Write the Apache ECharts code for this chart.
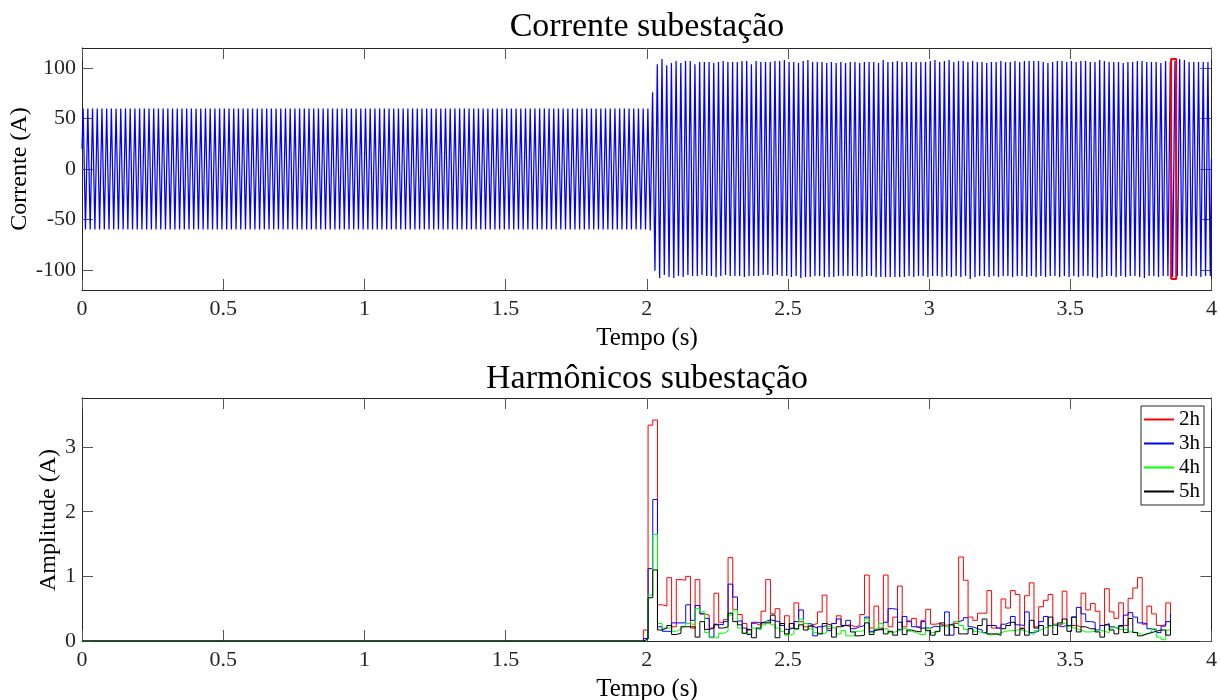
<!DOCTYPE html>
<html>
<head>
<meta charset="utf-8">
<script src="https://cdn.jsdelivr.net/npm/echarts@6/dist/echarts.min.js"></script>
<style>html,body{margin:0;padding:0;background:#fff}#c{width:1220px;height:700px}</style>
</head>
<body>
<div id="c"></div>
<script>
// ---------- DATA ----------
const timeTicks = [0, 0.5, 1, 1.5, 2, 2.5, 3, 3.5, 4];
const currentTicks = [-100, -50, 0, 50, 100];
const amplitudeTicks = [0, 1, 2, 3];

// Current waveform: 60 Hz, extremes of each cycle
const currentStart = [0, 20];
const currentEnd = [4, 10];
const currentFirstPeakTime = 0.004;
const currentFrequency = 60;
const currentPosPeaks = [
 60,60,60,60,60,60,60,60,60,60,60,60,60,60,60,60,60,60,60,60,
 60,60,60,60,60,60,60,60,60,60,60,60,60,60,60,60,60,60,60,60,
 60,60,60,60,60,60,60,60,60,60,60,60,60,60,60,60,60,60,60,60,
 60,60,60,60,60,60,60,60,60,60,60,60,60,60,60,60,60,60,60,60,
 60,60,60,60,60,60,60,60,60,60,60,60,60,60,60,60,60,60,60,60,
 60,60,60,60,60,60,60,60,60,60,60,60,60,60,60,60,60,60,60,60,
 60,
 76,104,109,103,105,107,105,107,107,104,106,106,106,105,106,107,106,106,106,107,
 107,104,107,106,106,106,107,107,108,106,106,105,107,108,106,106,106,105,106,105,
 106,105,106,106,105,106,106,106,105,108,106,106,107,
 106,106,106,106,106,106,107,108,106,107,108,106,107,107,106,107,106,106,105,106,
 106,107,106,106,107,106,107,107,107,107,106,105,106,107,107,106,107,106,107,107,
 106,106,108,107,106,106,106,105,106,106,107,107,106,106,106,105,107,106,107,109,
 108,106,106,106,106,106
];
const currentNegPeaks = [
 -60,-60,-60,-60,-60,-60,-60,-60,-60,-60,-60,-60,-60,-60,-60,-60,-60,-60,-60,-60,
 -60,-60,-60,-60,-60,-60,-60,-60,-60,-60,-60,-60,-60,-60,-60,-60,-60,-60,-60,-60,
 -60,-60,-60,-60,-60,-60,-60,-60,-60,-60,-60,-60,-60,-60,-60,-60,-60,-60,-60,-60,
 -60,-60,-60,-60,-60,-60,-60,-60,-60,-60,-60,-60,-60,-60,-60,-60,-60,-60,-60,-60,
 -60,-60,-60,-60,-60,-60,-60,-60,-60,-60,-60,-60,-60,-60,-60,-60,-60,-60,-60,-60,
 -60,-60,-60,-60,-60,-60,-60,-60,-60,-60,-60,-60,-60,-60,-60,-60,-60,-60,-60,-60,
 -61,
 -101,-108,-105,-107,-108,-106,-107,-105,-106,-106,-105,-106,-106,-107,-106,-105,-106,-106,-106,-107,
 -106,-106,-106,-105,-105,-106,-105,-106,-106,-107,-106,-108,-107,-107,-106,-106,-107,-107,-107,-106,
 -106,-106,-106,-106,-107,-106,-106,-107,-107,-107,-107,-107,-107,
 -107,-106,-107,-106,-106,-107,-106,-106,-107,-106,-107,-106,-107,-106,-109,-107,-106,-106,-107,-106,
 -107,-106,-106,-107,-106,-106,-107,-106,-107,-106,-107,-106,-106,-107,-106,-107,-106,-107,-106,-106,
 -107,-108,-107,-106,-106,-107,-106,-107,-106,-106,-107,-108,-106,-106,-107,-106,-106,-107,-106,-106,
 -107,-106,-106,-107,-106,-106
];
// Red zoom rectangle (time, current)
const zoomBoxTime = [3.857, 3.875, 3.875, 3.857, 3.857];
const zoomBoxCurrent = [-109, -109, 109, 109, -109];

// Harmonics: one value per 60 Hz cycle, starting at harmStart
const harmStart = 1.988;
const harmStep = 1 / 60;
const harmNames = ['2h', '3h', '4h', '5h'];
const h2 = [
 0.17,3.34,3.42,0.56,0.54,0.98,0.22,0.95,0.94,1.00,
 0.20,0.95,0.42,0.40,0.20,0.74,0.29,0.33,1.29,0.49,
 0.41,0.27,0.17,0.27,0.24,0.46,0.95,0.42,0.50,
 0.24,0.39,0.20,0.59,0.30,0.22,0.25,0.27,0.45,0.71,0.19,
 0.27,0.39,0.24,0.25,0.22,0.24,0.41,1.02,0.20,0.54,
 0.20,1.02,0.22,0.37,0.85,0.22,0.31,
 0.35,0.22,0.32,0.49,0.26,0.27,0.24,0.25,0.27,0.27,
 1.30,0.94,0.37,0.32,0.43,0.43,0.78,0.20,0.20,0.65,
 0.51,0.78,0.72,0.20,0.70,0.90,0.22,0.53,0.63,
 0.72,0.26,0.25,0.77,0.24,0.24,0.22,0.74,0.48,0.58,
 0.46,0.24,0.81,0.45,0.35,0.59,0.24,0.66,0.82,0.98,
 0.26,0.54,0.42,0.24,0.25,0.59,0.33
];
const h3 = [
 0.04,1.12,2.19,0.22,0.15,0.15,0.28,0.28,0.28,0.56,
 0.32,0.55,0.42,0.35,0.06,0.26,0.25,0.30,0.88,0.68,
 0.31,0.20,0.10,0.29,0.28,0.30,0.33,0.31,0.30,
 0.24,0.18,0.20,0.30,0.48,0.27,0.26,0.08,0.22,0.24,0.16,
 0.27,0.34,0.24,0.32,0.19,0.22,0.24,0.37,0.15,0.18,
 0.17,0.29,0.50,0.49,0.18,0.38,0.30,
 0.22,0.20,0.30,0.20,0.23,0.22,0.25,0.45,0.09,0.30,
 0.32,0.36,0.22,0.19,0.17,0.13,0.24,0.24,0.20,0.26,
 0.29,0.38,0.25,0.24,0.45,0.13,0.15,0.30,0.38,
 0.24,0.24,0.22,0.24,0.24,0.37,0.52,0.42,0.30,0.29,
 0.17,0.24,0.27,0.22,0.19,0.24,0.40,0.44,0.37,0.28,
 0.27,0.19,0.17,0.13,0.23,0.30,0.42
];
const h4 = [
 0.03,0.71,1.65,0.27,0.20,0.20,0.15,0.18,0.22,0.27,
 0.25,0.50,0.45,0.13,0.05,0.05,0.12,0.15,0.40,0.48,
 0.20,0.12,0.12,0.20,0.17,0.25,0.30,0.25,0.20,
 0.15,0.09,0.11,0.18,0.34,0.27,0.19,0.13,0.11,0.13,0.22,
 0.19,0.11,0.16,0.08,0.08,0.15,0.16,0.35,0.13,0.19,
 0.27,0.19,0.13,0.15,0.18,0.20,0.15,
 0.13,0.10,0.10,0.20,0.13,0.15,0.23,0.21,0.25,0.30,
 0.24,0.18,0.20,0.15,0.13,0.11,0.09,0.11,0.13,0.15,
 0.16,0.16,0.18,0.16,0.13,0.10,0.16,0.19,0.22,
 0.24,0.25,0.27,0.28,0.22,0.19,0.17,0.14,0.14,0.15,
 0.17,0.15,0.13,0.20,0.22,0.18,0.18,0.14,0.13,0.10,
 0.11,0.13,0.19,0.06,0.02,0.17,0.35
];
const h5 = [
 0.03,0.67,1.10,0.17,0.20,0.24,0.10,0.12,0.22,0.22,
 0.22,0.06,0.30,0.18,0.20,0.25,0.20,0.22,0.43,0.30,
 0.25,0.12,0.18,0.05,0.20,0.28,0.28,0.40,0.05,
 0.27,0.11,0.27,0.19,0.25,0.17,0.23,0.20,0.11,0.27,0.24,
 0.06,0.22,0.24,0.23,0.14,0.08,0.09,0.28,0.10,0.17,
 0.19,0.11,0.15,0.09,0.29,0.10,0.17,
 0.15,0.14,0.20,0.16,0.09,0.15,0.28,0.09,0.25,0.21,
 0.11,0.11,0.19,0.10,0.24,0.34,0.11,0.11,0.09,0.19,
 0.24,0.29,0.09,0.19,0.09,0.32,0.20,0.24,0.09,
 0.37,0.10,0.28,0.34,0.15,0.37,0.14,0.22,0.19,0.19,
 0.14,0.06,0.25,0.17,0.11,0.23,0.13,0.35,0.13,0.08,
 0.11,0.13,0.15,0.17,0.17,0.09,0.34
];
const harmColors = ['#ff0000', '#0000ff', '#00ff00', '#000000'];

// ---------- BUILD ----------
const currentData = [currentStart];
for (let k = 0; k < currentPosPeaks.length; k++) {
  const t = currentFirstPeakTime + k / currentFrequency;
  currentData.push([t, currentPosPeaks[k]]);
  currentData.push([t + 0.5 / currentFrequency, currentNegPeaks[k]]);
}
currentData.push(currentEnd);

const zoomBox = zoomBoxTime.map((t, i) => [t, zoomBoxCurrent[i]]);

function stairs(vals) {
  const d = [[0, 0]];
  vals.forEach((v, i) => d.push([harmStart + i * harmStep, v]));
  return d;
}
const harmSeries = [h2, h3, h4, h5];

const FONT = '"Liberation Serif", "Times New Roman", serif';
const AX = '#262626';
const tickFont = 22;

function xAxisPair(gridIndex) {
  return [
    { type: 'value', gridIndex, min: 0, max: 4, interval: 0.5, position: 'bottom',
      axisLine: { show: true, onZero: false, lineStyle: { color: AX, width: 1 } },
      axisTick: { show: true, inside: true, length: 11, lineStyle: { color: '#555', width: 1 },
        customValues: timeTicks },
      axisLabel: { show: true, margin: 8, color: AX, fontFamily: FONT, fontSize: tickFont,
        customValues: timeTicks, formatter: v => String(v) },
      splitLine: { show: false } },
    { type: 'value', gridIndex, min: 0, max: 4, interval: 0.5, position: 'top',
      axisLine: { show: true, onZero: false, lineStyle: { color: AX, width: 1 } },
      axisTick: { show: true, inside: true, length: 11, lineStyle: { color: '#555', width: 1 },
        customValues: timeTicks },
      axisLabel: { show: false }, splitLine: { show: false } }
  ];
}
function yAxisPair(gridIndex, min, max, ticks) {
  return [
    { type: 'value', gridIndex, min, max, position: 'left',
      axisLine: { show: true, onZero: false, lineStyle: { color: AX, width: 1 } },
      axisTick: { show: true, inside: true, length: 11, lineStyle: { color: '#555', width: 1 },
        customValues: ticks },
      axisLabel: { show: true, margin: 6, color: AX, fontFamily: FONT, fontSize: tickFont,
        customValues: ticks, formatter: v => String(v) },
      splitLine: { show: false } },
    { type: 'value', gridIndex, min, max, position: 'right',
      axisLine: { show: true, onZero: false, lineStyle: { color: AX, width: 1 } },
      axisTick: { show: true, inside: true, length: 11, lineStyle: { color: '#555', width: 1 },
        customValues: ticks },
      axisLabel: { show: false }, splitLine: { show: false } }
  ];
}

function txt(text, x, y, size, rot) {
  return { type: 'text', x, y, rotation: rot || 0, silent: true,
    style: { text, fill: '#000', font: size + 'px ' + FONT, align: 'center', verticalAlign: 'middle' } };
}

const option = {
  animation: false,
  backgroundColor: '#fff',
  grid: [
    { left: 82, right: 8, top: 48, height: 242 },
    { left: 82, right: 8, top: 398, height: 243 }
  ],
  xAxis: [...xAxisPair(0), ...xAxisPair(1)],
  yAxis: [...yAxisPair(0, -120, 120, currentTicks), ...yAxisPair(1, 0, 3.76, amplitudeTicks)],
  legend: {
    data: harmNames.map((n, i) => ({ name: n, itemStyle: { color: harmColors[i], borderWidth: 0 } })),
    orient: 'vertical', right: 16, top: 406,
    icon: 'rect', itemWidth: 30, itemHeight: 2, itemGap: 3, itemTextGap: 3,
    padding: [3, 4, 3, 3], borderColor: AX, borderWidth: 1, backgroundColor: '#fff',
    textStyle: { fontFamily: FONT, fontSize: 21, color: '#000', lineHeight: 20 }
  },
  graphic: [
    txt('Corrente subestação', 647, 27, 34),
    txt('Tempo (s)', 647, 338, 25),
    txt('Corrente (A)', 20, 169, 24, Math.PI / 2),
    txt('Harmônicos subestação', 647, 379, 34),
    txt('Tempo (s)', 647, 689, 25),
    txt('Amplitude (A)', 49, 520, 24, Math.PI / 2)
  ],
  series: [
    { name: 'Corrente', type: 'line', xAxisIndex: 0, yAxisIndex: 0, data: currentData,
      showSymbol: false, symbol: 'none', lineStyle: { color: '#0000ff', width: 1.25 }, z: 2 },
    { name: 'zoom', type: 'line', xAxisIndex: 0, yAxisIndex: 0, data: zoomBox,
      showSymbol: false, symbol: 'none', lineStyle: { color: '#ff0000', width: 2 }, z: 3 },
    ...harmSeries.map((vals, i) => ({
      name: harmNames[i], type: 'line', xAxisIndex: 2, yAxisIndex: 2, data: stairs(vals),
      step: 'end', showSymbol: false, symbol: 'none', color: harmColors[i],
      itemStyle: { color: harmColors[i] },
      lineStyle: { color: harmColors[i], width: 1 }, z: 2 + i
    }))
  ]
};
const chart = echarts.init(document.getElementById('c'), null, { renderer: 'canvas' });
chart.setOption(option);
</script>
</body>
</html>
